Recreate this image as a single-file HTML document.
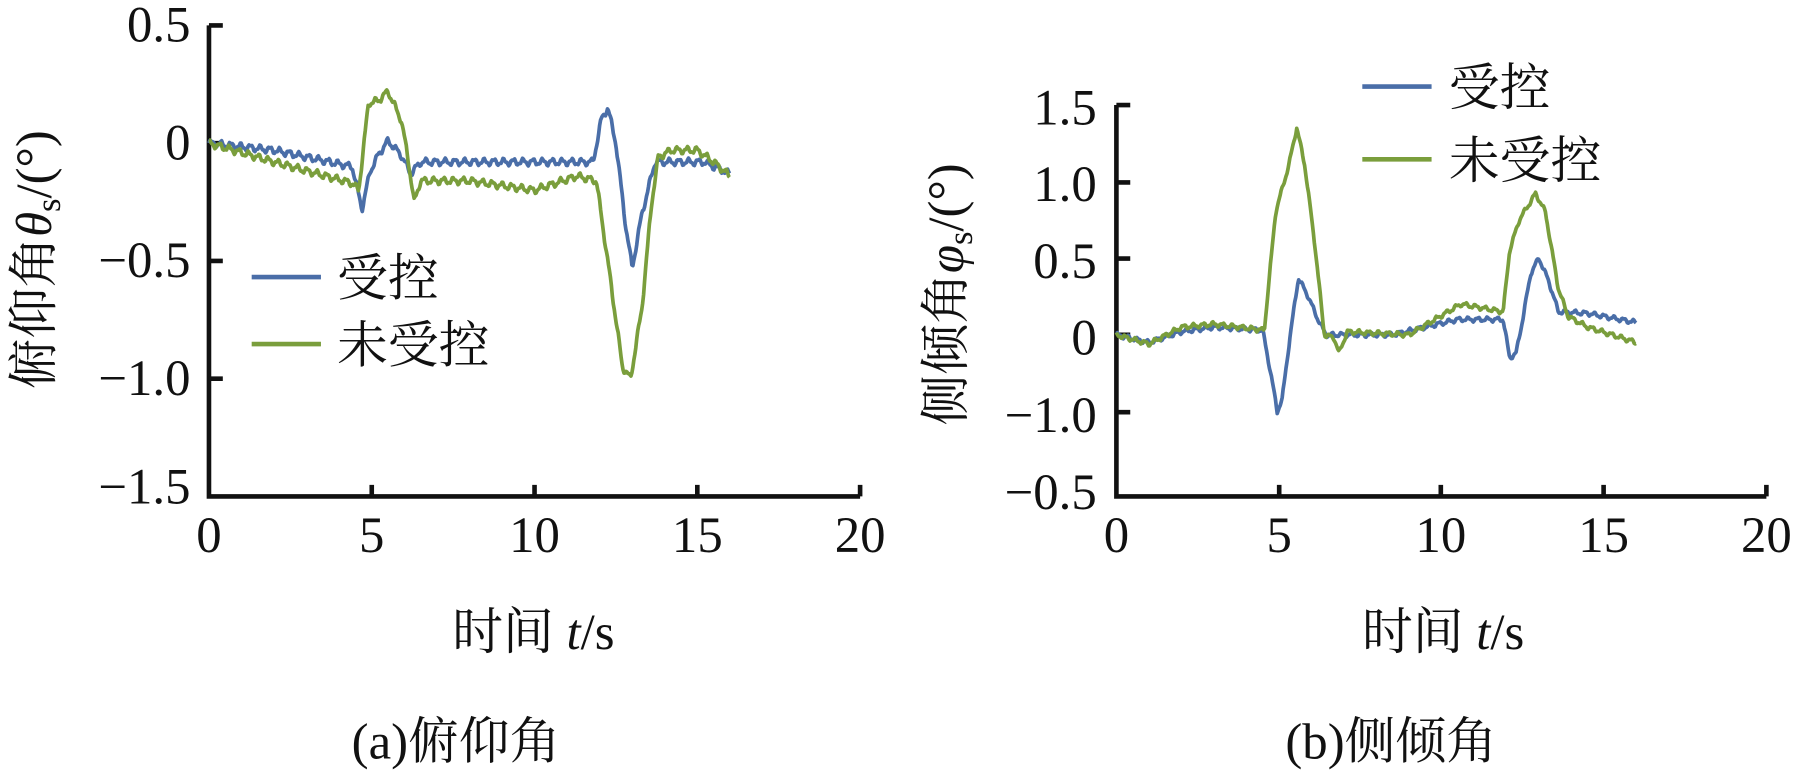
<!DOCTYPE html>
<html><head><meta charset="utf-8"><style>
body{margin:0;background:#fff;}
svg text{font-family:"Liberation Serif","Noto Serif CJK SC",serif;fill:#111;}
</style></head><body>
<svg width="1811" height="774" xmlns="http://www.w3.org/2000/svg">
<g transform="scale(1.1545)">
<g stroke="#111" stroke-width="4" fill="none">
<path d="M181,22 V430 H745"/>
<path d="M181,22h12M181,124h12M181,226h12M181,328h12"/>
<path d="M322,430v-10M463,430v-10M604,430v-10M745,430v-10"/>
<path d="M967,91 V430 H1530"/>
<path d="M967,91h12M967,158h12M967,224h12M967,290h12M967,357h12"/>
<path d="M1108,430v-10M1248,430v-10M1389,430v-10M1530,430v-10"/>
</g>
<g font-size="44" text-anchor="end">
<text x="165" y="36">0.5</text><text x="165" y="138">0</text><text x="165" y="240">−0.5</text><text x="165" y="342">−1.0</text><text x="165" y="436">−1.5</text>
<text x="950" y="108">1.5</text><text x="950" y="174">1.0</text><text x="950" y="241">0.5</text><text x="950" y="307">0</text><text x="950" y="374">−1.0</text><text x="950" y="441">−0.5</text>
</g>
<g font-size="44" text-anchor="middle">
<text x="181" y="478">0</text><text x="322" y="478">5</text><text x="463" y="478">10</text><text x="604" y="478">15</text><text x="745" y="478">20</text>
<text x="967" y="478">0</text><text x="1108" y="478">5</text><text x="1248" y="478">10</text><text x="1389" y="478">15</text><text x="1530" y="478">20</text>
<text x="462" y="562">时间 <tspan font-style="italic">t</tspan>/s</text>
<text x="1250" y="562">时间 <tspan font-style="italic">t</tspan>/s</text>
<text x="395" y="657">(a)俯仰角</text>
<text x="1205" y="657">(b)侧倾角</text>
<text transform="translate(44,225) rotate(-90)">俯仰角<tspan font-style="italic">θ</tspan><tspan font-size="30" dy="8">s</tspan><tspan dy="-8">/(°)</tspan></text>
<text transform="translate(834,255) rotate(-90)">侧倾角<tspan font-style="italic">φ</tspan><tspan font-size="30" dy="8">s</tspan><tspan dy="-8">/(°)</tspan></text>
</g>
<g stroke-width="4">
<line x1="218" y1="240" x2="278" y2="240" stroke="#4a6ea8"/>
<line x1="218" y1="298" x2="278" y2="298" stroke="#7a9e3c"/>
<line x1="1180" y1="75" x2="1240" y2="75" stroke="#4a6ea8"/>
<line x1="1180" y1="138" x2="1240" y2="138" stroke="#7a9e3c"/>
</g>
<g font-size="44">
<text x="292" y="256">受控</text><text x="292" y="314">未受控</text>
<text x="1255" y="91">受控</text><text x="1255" y="154">未受控</text>
</g>
<g id="curves" fill="none" stroke-width="3.2" stroke-linejoin="round"></g>
</g>
</svg>
<script>
function interp(k,t){for(var i=0;i<k.length-1;i++){if(t>=k[i][0]&&t<=k[i+1][0]){var a=k[i],b=k[i+1];return a[1]+(b[1]-a[1])*(t-a[0])/(b[0]-a[0]);}}return k[k.length-1][1];}
function draw(k,x0,sx,y0,sy,col,amp,ph){var p=[];for(var t=0;t<=16.001;t+=0.03){var v=interp(k,t)+amp*Math.sin(t*21+ph)+amp*0.4*Math.sin(t*53+ph);p.push((x0+sx*t).toFixed(1)+","+(y0-sy*v).toFixed(1));}
var e=document.createElementNS("http://www.w3.org/2000/svg","polyline");e.setAttribute("points",p.join(" "));e.setAttribute("stroke",col);document.getElementById("curves").appendChild(e);}
var B="#4a6ea8",G="#7a9e3c";
draw([[0,0],[2,-0.03],[4.4,-0.1],[4.7,-0.28],[4.95,-0.12],[5.2,-0.05],[5.5,0.01],[5.9,-0.05],[6.2,-0.13],[6.5,-0.08],[11.8,-0.08],[12.05,0.1],[12.25,0.15],[12.5,0],[12.8,-0.35],[13.0,-0.53],[13.3,-0.3],[13.7,-0.08],[15.2,-0.08],[16,-0.13]],181,28.2,124,204,B,0.012,0);
draw([[0,0],[2,-0.08],[4.4,-0.17],[4.6,-0.2],[4.9,0.17],[5.2,0.18],[5.5,0.22],[5.9,0.1],[6.1,-0.05],[6.3,-0.25],[6.5,-0.16],[8,-0.16],[10,-0.2],[11.3,-0.14],[11.9,-0.16],[12.3,-0.55],[12.7,-0.95],[12.95,-1.0],[13.3,-0.7],[13.6,-0.25],[13.8,-0.06],[14.2,-0.03],[15,-0.03],[15.5,-0.08],[16,-0.14]],181,28.2,124,204,G,0.012,1);
draw([[0,0],[1,-0.05],[2,0.02],[3,0.05],[4.5,0.03],[4.75,-0.25],[4.95,-0.5],[5.1,-0.42],[5.35,0.0],[5.6,0.37],[5.9,0.25],[6.2,0.1],[6.45,0],[8.5,0],[10.5,0.1],[11.9,0.1],[12.1,-0.15],[12.3,-0.12],[12.5,0.1],[12.75,0.4],[13.0,0.5],[13.3,0.35],[13.6,0.15],[14.5,0.14],[16,0.08]],967,28.15,290,133,B,0.012,0.5);
draw([[0,0],[1,-0.06],[2,0.05],[3,0.07],[4.55,0.03],[4.9,0.8],[5.3,1.1],[5.55,1.35],[5.8,1.1],[6.1,0.6],[6.4,0.0],[6.7,-0.02],[6.85,-0.12],[7.1,0.02],[9,0],[10.6,0.2],[11.9,0.15],[12.1,0.55],[12.4,0.75],[12.9,0.92],[13.2,0.8],[13.6,0.3],[13.9,0.12],[14.5,0.05],[16,-0.05]],967,28.15,290,133,G,0.012,2);
</script>
</body></html>
